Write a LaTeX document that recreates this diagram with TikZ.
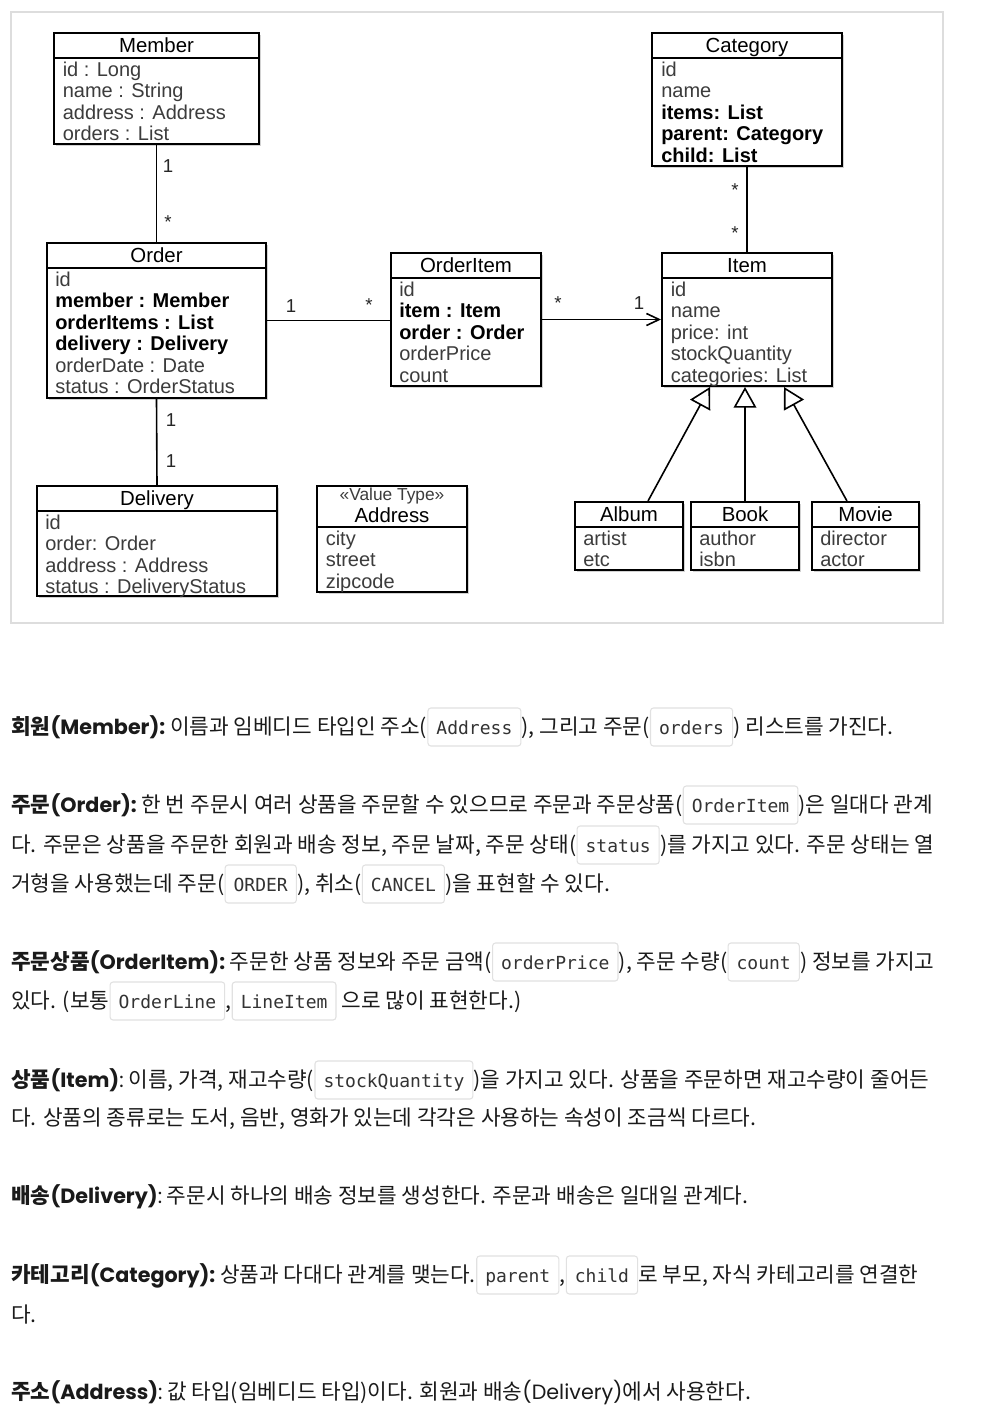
\documentclass[tikz,border=0pt]{standalone}
\usepackage{fontspec}
\usetikzlibrary{arrows.meta,fit,shadows}
\newfontfamily\dg{Liberation Sans}
\newfontfamily\kr{Noto Sans CJK KR}
\newfontfamily\lt{Poppins}
\newfontfamily\cd{DejaVu Sans Mono}
\definecolor{attrgray}{HTML}{3C3C3C}
\definecolor{framegray}{HTML}{DDDDDD}
\definecolor{codeborder}{HTML}{E1E1E1}
\definecolor{codetext}{HTML}{333333}
\definecolor{bodytext}{HTML}{1A1A1A}
\newcommand\KB[1]{{\bfseries #1}}
\newcommand\LB[1]{{\lt\bfseries\fontsize{15.5}{18}\selectfont #1}}
\newcommand\LR[1]{{\lt\fontsize{15.5}{18}\selectfont #1}}
\newcommand\bA[1]{{\color{black}\bfseries #1}}
\newcommand\umlbox[6]{%
  \node[cls, fit={(#2,#3) (#4,#5)}] (#1) {};
  \draw[sepl] (#2,#6) -- (#4,#6);
}
\tikzset{
  cls/.style={draw=black, line width=1.5pt, fill=white, inner sep=0pt,
    drop shadow={shadow xshift=1.5pt, shadow yshift=-1.8pt, opacity=0.35}},
  sepl/.style={line width=1.5pt},
  ttl/.style={font=\dg\fontsize{15.3}{18}\selectfont, anchor=base, inner sep=0pt, text=black},
  stereo/.style={font=\dg\fontsize{13}{15}\selectfont, anchor=base, inner sep=0pt, text=attrgray},
  att/.style={font=\dg\fontsize{15}{18}\selectfont, anchor=base west, inner sep=0pt, text=attrgray},
  mult/.style={font=\dg\fontsize{14}{16}\selectfont, inner sep=0pt, text=black!85},
  assoc/.style={line width=1.2pt},
  nav/.style={line width=1.2pt, -{Straight Barb[length=9.5pt, width=9pt]}},
  gen/.style={line width=1.2pt, -{Triangle[length=15.5pt, width=17pt, fill=white]}},
  tx/.style={anchor=base west, inner sep=0pt, font=\kr\fontsize{16}{19}\selectfont, text=bodytext},
  cb/.style={anchor=base west, draw=codeborder, line width=0.8pt, rounded corners=2.2pt,
    fill=white, inner xsep=6.4pt, inner ysep=0pt, text height=19.5pt, text depth=9pt,
    font=\cd\fontsize{13.5}{16}\selectfont, text=codetext},
}
\begin{document}
\begin{tikzpicture}[x=0.75pt, y=-0.75pt]
\fill[white] (0,0) rectangle (982,1424);
\useasboundingbox (0,0) rectangle (982,1424);
\draw[draw=framegray, line width=1.5pt] (11,12) rectangle (943,623);

% ---- classes ----
\umlbox{member}{54}{33}{259}{144}{58}
\node[ttl] (member-t) at (156.5,52.5) {Member};
\foreach \t [count=\i from 0] in {id : Long, name : String, address : Address, orders : List}
  \node[att] (member-r\i) at (62.5,{76+21.5*\i}) {\t};

\umlbox{category}{652}{33}{842}{166}{58}
\node[ttl] (category-t) at (747,52.5) {Category};
\foreach \t [count=\i from 0] in {id, name, \bA{items: List}, \bA{parent: Category}, \bA{child: List}}
  \node[att] (category-r\i) at (661,{76+21.5*\i}) {\t};

\umlbox{order}{47}{243}{266}{398}{268}
\node[ttl] (order-t) at (156.5,262.5) {Order};
\foreach \t [count=\i from 0] in {id, \bA{member : Member}, \bA{orderItems : List}, \bA{delivery : Delivery}, orderDate : Date, status : OrderStatus}
  \node[att] (order-r\i) at (55,{286+21.5*\i}) {\t};

\umlbox{orderitem}{391}{253}{541}{386}{278}
\node[ttl] (orderitem-t) at (466,272.5) {OrderItem};
\foreach \t [count=\i from 0] in {id, \bA{item : Item}, \bA{order : Order}, orderPrice, count}
  \node[att] (orderitem-r\i) at (399,{296+21.5*\i}) {\t};

\umlbox{item}{662}{253}{832}{386}{278}
\node[ttl] (item-t) at (747,272.5) {Item};
\foreach \t [count=\i from 0] in {id, name, price: int, stockQuantity, categories: List}
  \node[att] (item-r\i) at (670.5,{296+21.5*\i}) {\t};

\umlbox{delivery}{37}{486}{277}{596}{511}
\node[ttl] (delivery-t) at (157,505.5) {Delivery};
\foreach \t [count=\i from 0] in {id, order: Order, address : Address, status : DeliveryStatus}
  \node[att] (delivery-r\i) at (45,{529+21.5*\i}) {\t};

\umlbox{address}{317}{486}{467}{592}{527}
\node[stereo] (address-s) at (392,500.5) {«Value Type»};
\node[ttl] (address-t) at (392,522.5) {Address};
\foreach \t [count=\i from 0] in {city, street, zipcode}
  \node[att] (address-r\i) at (325.5,{545+21.5*\i}) {\t};

\umlbox{album}{575}{502}{683}{570}{527}
\node[ttl] (album-t) at (629,521) {Album};
\foreach \t [count=\i from 0] in {artist, etc}
  \node[att] (album-r\i) at (583,{545+21.5*\i}) {\t};

\umlbox{book}{691}{502}{799}{570}{527}
\node[ttl] (book-t) at (745,521) {Book};
\foreach \t [count=\i from 0] in {author, isbn}
  \node[att] (book-r\i) at (699,{545+21.5*\i}) {\t};

\umlbox{movie}{812}{502}{919}{570}{527}
\node[ttl] (movie-t) at (865.5,521) {Movie};
\foreach \t [count=\i from 0] in {director, actor}
  \node[att] (movie-r\i) at (820,{545+21.5*\i}) {\t};

% ---- connectors ----
\draw[assoc] (member.south) -- (order.north);
\draw[assoc] (order.south) -- (delivery.north);
\draw[assoc] (order.east) -- (orderitem.west |- order.east);
\draw[nav] (orderitem.east) -- (item.west |- orderitem.east);
\draw[assoc] (category.south) -- (item.north);
\draw[gen] ([xshift=14.25pt]album.north) -- ([xshift=-27.75pt]item.south);
\draw[gen] (book.north) -- (book.north |- item.south);
\draw[gen] ([xshift=-13.9pt]movie.north) -- ([xshift=27.75pt]item.south);

% ---- multiplicities ----
\node[mult] (m1) at (168,166) {1};
\node[mult] (m2) at (168,222) {*};
\node[mult] (m3) at (291,306) {1};
\node[mult] (m4) at (369,305) {*};
\node[mult] (m5) at (558,303) {*};
\node[mult] (m6) at (639,303) {1};
\node[mult] (m7) at (735,190) {*};
\node[mult] (m8) at (735,233) {*};
\node[mult] (m9) at (171,420) {1};
\node[mult] (m10) at (171,461) {1};

% ---- text ----
\node[tx] (p1a) at (11,734) {\KB{회원}\LB{(Member):}~이름과 임베디드 타입인 주소(};
\node[cb] (p1b) at (p1a.base east) {Address};
\node[tx] (p1c) at (p1b.base east) {), 그리고 주문(};
\node[cb] (p1d) at (p1c.base east) {orders};
\node[tx] (p1e) at (p1d.base east) {)~리스트를 가진다.};

\node[tx] (p2a) at (11,812) {\KB{주문}\LB{(Order):}~한 번 주문시 여러 상품을 주문할 수 있으므로 주문과 주문상품(};
\node[cb] (p2b) at (p2a.base east) {OrderItem};
\node[tx] (p2c) at (p2b.base east) {)은 일대다 관계};

\node[tx] (p3a) at (11,852) {다. 주문은 상품을 주문한 회원과 배송 정보, 주문 날짜, 주문 상태(};
\node[cb] (p3b) at (p3a.base east) {status};
\node[tx] (p3c) at (p3b.base east) {)를 가지고 있다. 주문 상태는 열};

\node[tx] (p4a) at (11,891) {거형을 사용했는데 주문(};
\node[cb] (p4b) at (p4a.base east) {ORDER};
\node[tx] (p4c) at (p4b.base east) {), 취소(};
\node[cb] (p4d) at (p4c.base east) {CANCEL};
\node[tx] (p4e) at (p4d.base east) {)을 표현할 수 있다.};

\node[tx] (p5a) at (11,969) {\KB{주문상품}\LB{(OrderItem):}~주문한 상품 정보와 주문 금액(};
\node[cb] (p5b) at (p5a.base east) {orderPrice};
\node[tx] (p5c) at (p5b.base east) {), 주문 수량(};
\node[cb] (p5d) at (p5c.base east) {count};
\node[tx] (p5e) at (p5d.base east) {)~정보를 가지고};

\node[tx] (p6a) at (11,1008) {있다. (보통~};
\node[cb] (p6b) at (p6a.base east) {OrderLine};
\node[tx] (p6c) at (p6b.base east) {,};
\node[cb] (p6d) at (p6c.base east) {LineItem};
\node[tx] (p6e) at (p6d.base east) {~으로 많이 표현한다.)};

\node[tx] (p7a) at (11,1087) {\KB{상품}\LB{(Item)}\LR{:}~이름, 가격, 재고수량(};
\node[cb] (p7b) at (p7a.base east) {stockQuantity};
\node[tx] (p7c) at (p7b.base east) {)을 가지고 있다. 상품을 주문하면 재고수량이 줄어든};

\node[tx] (p8a) at (11,1125) {다. 상품의 종류로는 도서, 음반, 영화가 있는데 각각은 사용하는 속성이 조금씩 다르다.};

\node[tx] (p9a) at (11,1203) {\KB{배송}\LB{(Delivery)}\LR{:}~주문시 하나의 배송 정보를 생성한다. 주문과 배송은 일대일 관계다.};

\node[tx] (p10a) at (11,1282) {\KB{카테고리}\LB{(Category):}~상품과 다대다 관계를 맺는다.~};
\node[cb] (p10b) at (p10a.base east) {parent};
\node[tx] (p10c) at (p10b.base east) {,};
\node[cb] (p10d) at (p10c.base east) {child};
\node[tx] (p10e) at (p10d.base east) {로 부모, 자식 카테고리를 연결한};

\node[tx] (p11a) at (11,1322) {다.};

\node[tx] (p12a) at (11,1399) {\KB{주소}\LB{(Address)}\LR{:}~값 타입(임베디드 타입)이다. 회원과 배송\LR{(Delivery)}에서 사용한다.};
\end{tikzpicture}
\end{document}
